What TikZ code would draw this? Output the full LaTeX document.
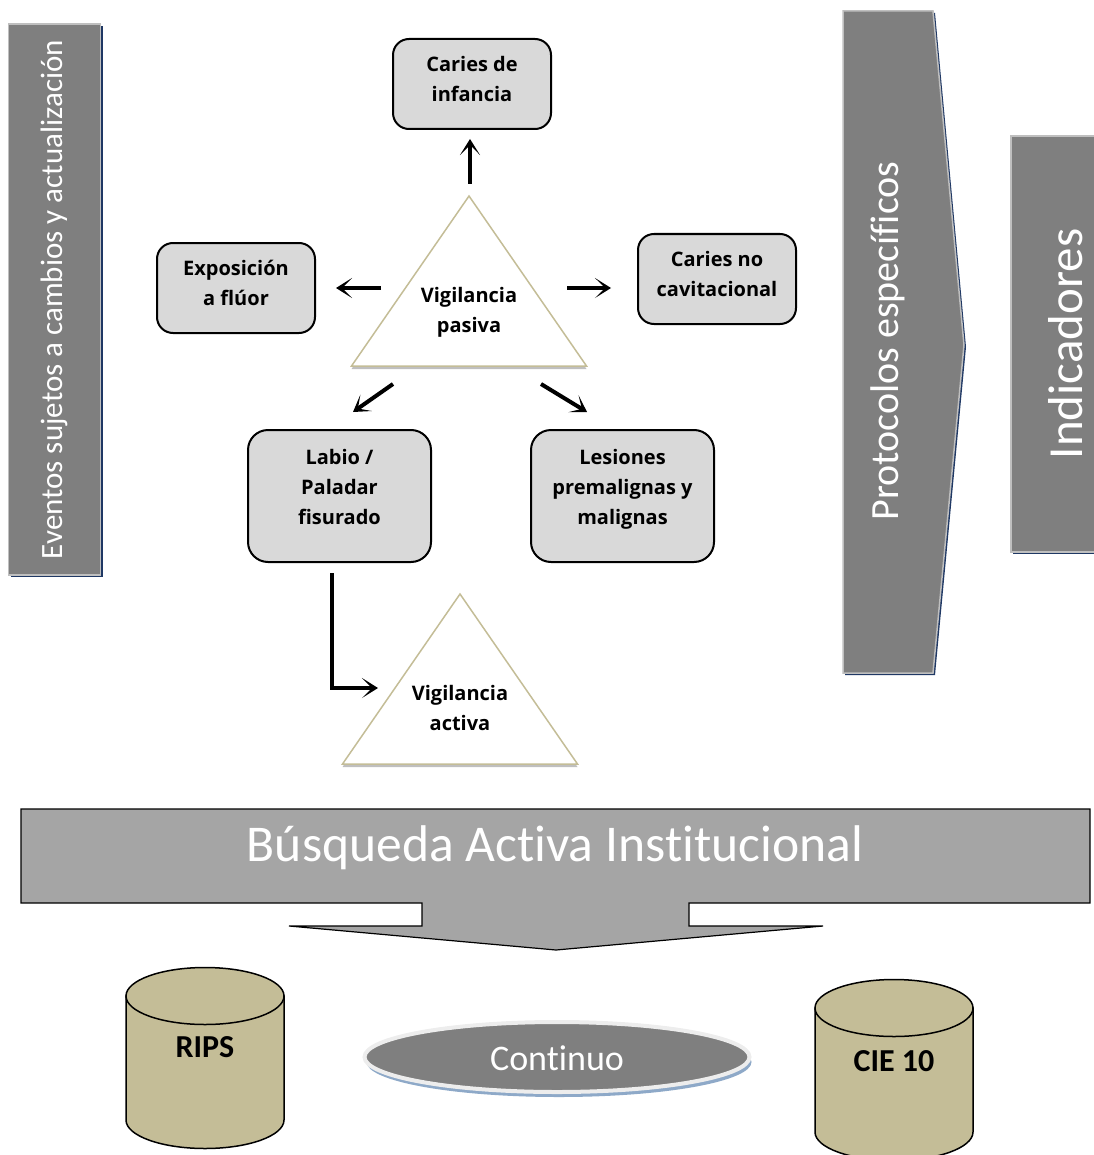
\documentclass[tikz,border=0pt]{standalone}
\usepackage{fontspec}
\setmainfont{Carlito}[Ligatures=NoCommon]
\newfontfamily\openSans{Open Sans}
\usetikzlibrary{arrows.meta,shapes.geometric,shadows}

\definecolor{barGray}{HTML}{7F7F7F}
\definecolor{edgeGray}{HTML}{BFBFBF}
\definecolor{shadowNavy}{HTML}{1F3864}
\definecolor{boxGray}{HTML}{D9D9D9}
\definecolor{tanLine}{HTML}{C4BD97}
\definecolor{tanFill}{HTML}{C4BD97}
\definecolor{bannerGray}{HTML}{A5A5A5}
\definecolor{triShade}{HTML}{BFBFBF}
\definecolor{ringBlue}{HTML}{8EA9C8}

\begin{document}
\begin{tikzpicture}[x=0.5pt, y=-0.5pt,
    box/.style={draw, line width=1pt, fill=boxGray, rounded corners=8pt, align=center,
        inner sep=0pt, font=\openSans\bfseries\fontsize{10}{15}\selectfont},
    smallBox/.style={box, minimum width=79pt, minimum height=45pt, text depth=5pt},
    bigBox/.style={box, rounded corners=10pt, minimum width=91.5pt, minimum height=66pt, text depth=9pt},
    vigText/.style={align=center, font=\openSans\bfseries\fontsize{10}{15}\selectfont},
    arr/.style={-{Stealth[length=8pt, width=10pt, inset=5pt]}, line width=2pt},
    grayBar/.style={fill=barGray, draw=edgeGray, line width=0.75pt, text=white, inner sep=0pt,
        drop shadow={shadow xshift=1.2pt, shadow yshift=-1.2pt, fill=shadowNavy, opacity=1}},
    whiteText/.style={text=white, inner sep=0pt}]
    \newcommand{\vigTriangle}[2]{
        \fill[triShade] (#1-117.5,#2+173) -- (#1+117.5,#2+173) -- (#1,#2+3) -- cycle;
        \draw[tanLine, line width=0.75pt, fill=white] (#1,#2) -- (#1+117.5,#2+170) -- (#1-117.5,#2+170) -- cycle;
    }
    \newcommand{\tanCylinder}[3]{
        \draw[fill=tanFill, line width=0.75pt] (#1-79,#2) -- (#1-79,#3)
            arc[start angle=180, end angle=360, x radius=39.5pt, y radius=14.25pt] -- (#1+79,#2) -- cycle;
        \draw[fill=tanFill, line width=0.75pt] (#1,#2) ellipse [x radius=39.5pt, y radius=14.25pt];
    }

    \useasboundingbox (0,0) rectangle (1093,1155);

    \node (eventos) [grayBar, rotate=90, minimum width=275.5pt, minimum height=46pt,
        font=\fontsize{15.5}{18}\selectfont] at (54.5,299.5) {Eventos sujetos a cambios y actualización};

    \fill[shadowNavy] (845,13) -- (935,13) -- (966,347) -- (935,675) -- (845,675) -- cycle;
    \draw[fill=barGray, draw=edgeGray, line width=0.75pt] (843,11) -- (933,11) -- (964,345) -- (933,673) -- (843,673) -- cycle;
    \node (protocolos) [whiteText, rotate=90, font=\fontsize{20}{24}\selectfont] at (888,341) {Protocolos específicos};

    \node (indicadores) [grayBar, rotate=90, minimum width=208pt, minimum height=55pt,
        font=\fontsize{24.5}{28}\selectfont] at (1066,344) {Indicadores};

    \node (infancia) [smallBox] at (472,84) {Caries de\\infancia};
    \node (fluor) [smallBox] at (236,288) {Exposición\\a flúor};
    \node (cavitacional) [smallBox] at (717,279) {Caries no\\cavitacional};
    \node (labio) [bigBox] at (339.5,496) {Labio /\\Paladar\\fisurado};
    \node (lesiones) [bigBox] at (622.5,496) {Lesiones\\premalignas y\\malignas};

    \vigTriangle{469}{196}
    \node (pasiva) [vigText] at (469,312) {Vigilancia\\pasiva};
    \vigTriangle{460}{594}
    \node (activa) [vigText] at (460,708) {Vigilancia\\activa};

    \coordinate (paUp) at (470,184);
    \coordinate (paLeft) at (381,288);
    \coordinate (paRight) at (567,288);
    \coordinate (paDownLeft) at (393,384);
    \coordinate (paDownRight) at (541,384);
    \coordinate (labioIn) at (353,412);
    \coordinate (lesionesIn) at (587,412);
    \coordinate (labioOut) at (332,573);
    \coordinate (activaIn) at (378,688);

    \draw[arr, shorten >=4.5pt] (paUp) -- (paUp |- infancia.south);
    \draw[arr, shorten >=10pt] (paLeft) -- (paLeft -| fluor.east);
    \draw[arr, shorten >=13pt] (paRight) -- (paRight -| cavitacional.west);
    \draw[arr] (paDownLeft) -- (labioIn);
    \draw[arr] (paDownRight) -- (lesionesIn);
    \draw[arr] (labioOut) |- (activaIn);

    \draw[fill=bannerGray, line width=0.6pt] (21,809) -- (1090,809) -- (1090,903) -- (689,903) -- (689,926)
        -- (823,926) -- (556,950) -- (289,926) -- (422,926) -- (422,903) -- (21,903) -- cycle;
    \node (busqueda) [whiteText, anchor=base, font=\fontsize{25.8}{30}\selectfont] at (555,861) {Búsqueda Activa Institucional};

    \tanCylinder{205}{996}{1120}
    \node (rips) [anchor=base, font=\bfseries\fontsize{16}{19}\selectfont] at (205,1057) {RIPS};
    \tanCylinder{894}{1008}{1132}
    \node (cie) [anchor=base, font=\bfseries\fontsize{16}{19}\selectfont] at (894,1071) {CIE 10};

    \node (continuo) [ellipse, minimum width=192.5pt, minimum height=35pt, fill=barGray, draw=white!93!black,
        line width=2pt, drop shadow={shadow xshift=1pt, shadow yshift=-2.5pt, fill=ringBlue, opacity=1}] at (557,1057) {};
    \node (continuoText) [whiteText, anchor=base, font=\fontsize{18}{22}\selectfont] at (557,1070) {Continuo};
\end{tikzpicture}
\end{document}
